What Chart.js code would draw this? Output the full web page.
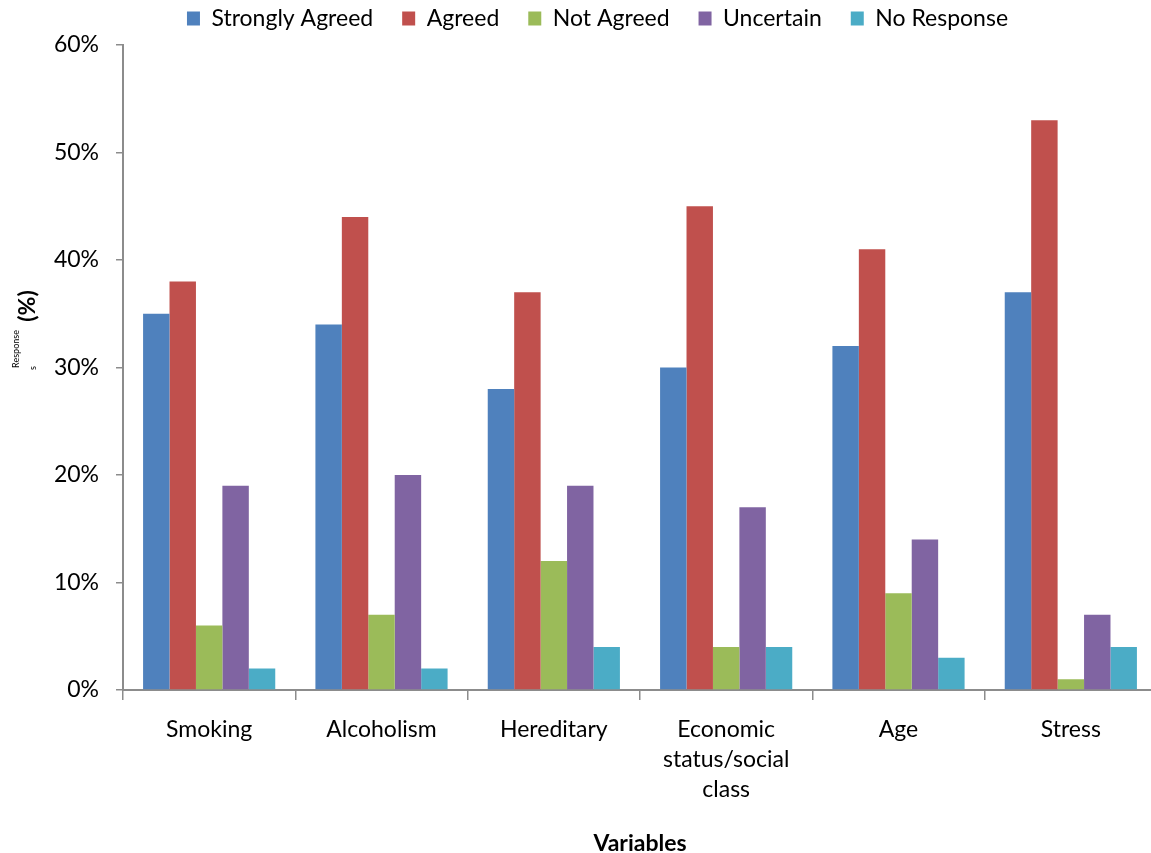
<!DOCTYPE html>
<html>
<head>
<meta charset="utf-8">
<script src="https://cdn.jsdelivr.net/npm/chart.js@4/dist/chart.umd.min.js"></script>
<style>
  html, body { margin: 0; padding: 0; background: #fff; overflow: hidden; }
  #wrap { width: 1151px; height: 853px; overflow: hidden; position: relative; }
  #box { width: 1160px; height: 853px; position: absolute; left: 0; top: 0; }
</style>
</head>
<body>
<div id="wrap"><div id="box"><canvas id="chart"></canvas></div></div>
<script>
// Risk factor survey: share of responses per answer
const categories = ['Smoking', 'Alcoholism', 'Hereditary', ['Economic', 'status/social', 'class'], 'Age', 'Stress'];
const seriesNames = ['Strongly Agreed', 'Agreed', 'Not Agreed', 'Uncertain', 'No Response'];
const stronglyAgreed = [35, 34, 28, 30, 32, 37];
const agreed         = [38, 44, 37, 45, 41, 53];
const notAgreed      = [6, 7, 12, 4, 9, 1];
const uncertain      = [19, 20, 19, 17, 14, 7];
const noResponse     = [2, 2, 4, 4, 3, 4];
const yTicks = [0, 10, 20, 30, 40, 50, 60];

const seriesValues = [stronglyAgreed, agreed, notAgreed, uncertain, noResponse];
const seriesColors = ['#4F81BD', '#C0504D', '#9BBB59', '#8064A2', '#4BACC6'];

const FONT = 'Lato, "Open Sans", sans-serif';
const AXIS_GRAY = '#8c8c8c';

// Vertical axis caption: small "Response s" next to a bold "(%)"
const yCaption = {
  id: 'yCaption',
  afterDraw(chart) {
    const ctx = chart.ctx;
    ctx.save();
    ctx.fillStyle = '#000';
    ctx.textAlign = 'center';
    ctx.textBaseline = 'middle';
    const put = (text, x, y, font) => {
      ctx.save();
      ctx.translate(x, y);
      ctx.rotate(-Math.PI / 2);
      ctx.font = font;
      ctx.fillText(text, 0, 0);
      ctx.restore();
    };
    put('Response', 16, 349, '9px ' + FONT);
    put('s', 33, 368, '9px ' + FONT);
    put('(%)', 28, 306, 'bold 23px ' + FONT);
    ctx.restore();
  }
};

// Fixed legend band height and horizontal placement
const legendBand = {
  id: 'legendBand',
  afterInit(chart) {
    const lg = chart.legend;
    if (!lg) return;
    const fit = lg.fit;
    lg.fit = function () { fit.call(this); this.height = 67; };
  },
  afterLayout(chart) {
    const lg = chart.legend;
    if (!lg) return;
    lg.left += 19; lg.right += 19;
  }
};

new Chart(document.getElementById('chart'), {
  type: 'bar',
  data: {
    labels: categories,
    datasets: seriesNames.map((name, i) => ({
      label: name,
      data: seriesValues[i],
      backgroundColor: seriesColors[i],
      borderWidth: 0,
      categoryPercentage: 0.767,
      barPercentage: 1.0
    }))
  },
  options: {
    responsive: true,
    maintainAspectRatio: false,
    animation: false,
    layout: { padding: { top: -22, right: 3, bottom: 0, left: 0 } },
    plugins: {
      tooltip: { enabled: false },
      legend: {
        position: 'top',
        labels: {
          boxWidth: 13,
          boxHeight: 14,
          padding: 29,
          color: '#000',
          font: { family: FONT, size: 23 }
        }
      }
    },
    scales: {
      x: {
        grid: {
          display: true,
          offset: true,
          drawOnChartArea: false,
          drawTicks: true,
          tickLength: 10,
          color: AXIS_GRAY,
          lineWidth: 1.5
        },
        border: { display: true, color: AXIS_GRAY, width: 2 },
        ticks: {
          color: '#000',
          padding: 15,
          maxRotation: 0,
          autoSkip: false,
          font: { family: FONT, size: 23, lineHeight: 1.3 }
        },
        title: {
          display: true,
          text: 'Variables',
          color: '#000',
          padding: { top: 0, bottom: 0 },
          font: { family: FONT, size: 23, weight: 'bold', lineHeight: 0.8 }
        },
        afterFit(scale) { scale.height = 163; }
      },
      y: {
        min: 0,
        max: 60,
        afterBuildTicks(scale) { scale.ticks = yTicks.map(v => ({ value: v })); },
        grid: {
          display: true,
          drawOnChartArea: false,
          drawTicks: true,
          tickLength: 7,
          color: AXIS_GRAY,
          lineWidth: 1.5
        },
        border: { display: true, color: AXIS_GRAY, width: 2 },
        ticks: {
          color: '#000',
          padding: 17,
          font: { family: FONT, size: 23 },
          callback: v => v + '%'
        },
        afterFit(scale) { scale.width = 123; }
      }
    }
  },
  plugins: [yCaption, legendBand]
});
</script>
</body>
</html>
